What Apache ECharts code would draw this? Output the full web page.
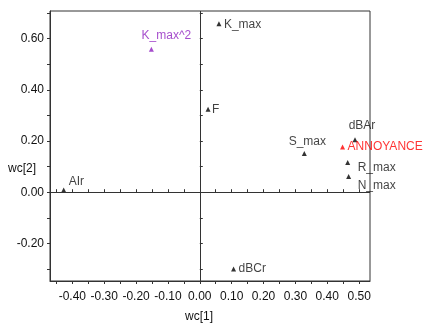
<!DOCTYPE html>
<html>
<head>
<meta charset="utf-8">
<script src="https://cdn.jsdelivr.net/npm/echarts@6/dist/echarts.min.js"></script>
<style>
  html, body { margin: 0; padding: 0; background: #fff; }
  #chart { width: 429px; height: 325px; }
</style>
</head>
<body>
<div id="chart"></div>
<script>
// loadings on the first two components
const names = ['K_max^2', 'K_max', 'F', 'dBAr', 'S_max', 'ANNOYANCE', 'R_max', 'N_max', 'dBCr', 'AIr'];
const wc1 = [-0.152, 0.060, 0.026, 0.487, 0.328, 0.448, 0.464, 0.467, 0.106, -0.427];
const wc2 = [0.559, 0.658, 0.324, 0.205, 0.151, 0.177, 0.116, 0.061, -0.300, 0.009];
const groups = ['x', 'v', 'v', 'v', 'v', 'y', 'v', 'v', 'v', 'v']; // x = squared term, y = response, v = variable

const xTicks = [-0.45, -0.40, -0.35, -0.30, -0.25, -0.20, -0.15, -0.10, -0.05, 0.00, 0.05, 0.10, 0.15, 0.20, 0.25, 0.30, 0.35, 0.40, 0.45, 0.50];
const xLabels = [-0.40, -0.30, -0.20, -0.10, 0.00, 0.10, 0.20, 0.30, 0.40, 0.50];
const yTicks = [-0.30, -0.20, -0.10, 0.00, 0.10, 0.20, 0.30, 0.40, 0.50, 0.60, 0.70];
const yLabels = [-0.20, 0.00, 0.20, 0.40, 0.60];

// where each label sits around its marker
const labelAt = {
    'K_max^2': { align: 'center', offset: [15, -13] },
    'K_max': { align: 'left', offset: [5, 1] },
    'F': { align: 'left', offset: [4, 0] },
    'dBAr': { align: 'center', offset: [7, -14] },
    'S_max': { align: 'center', offset: [3, -12] },
    'ANNOYANCE': { align: 'left', offset: [5, 0] },
    'R_max': { align: 'left', offset: [10, 5] },
    'N_max': { align: 'left', offset: [9, 9] },
    'dBCr': { align: 'left', offset: [5, 0] },
    'AIr': { align: 'left', offset: [5, -8] }
};

const colors = { x: '#8e1fbf', y: '#ff0000', v: '#000000' };
const textColors = { x: '#8e1fbf', y: '#ff0000', v: '#111111' };

function makeSeries(g) {
    let data = [];
    names.forEach((n, i) => {
        if (groups[i] !== g) return;
        data.push({
            name: n,
            value: [wc1[i], wc2[i]],
            label: {
                align: labelAt[n].align,
                offset: labelAt[n].offset
            }
        });
    });
    return {
        type: 'scatter',
        symbol: 'triangle',
        symbolSize: 5,
        itemStyle: { color: colors[g] },
        label: {
            show: true,
            position: 'inside',
            verticalAlign: 'middle',
            formatter: '{b}',
            color: textColors[g],
            fontFamily: 'Liberation Sans',
            fontSize: 12
        },
        emphasis: { disabled: true },
        data: data
    };
}

const fmt = v => v.toFixed(2);
const font = { color: '#111', fontFamily: 'Liberation Sans', fontSize: 12 };

const chart = echarts.init(document.getElementById('chart'), null, { renderer: 'canvas' });
let series = ['v', 'x', 'y'].map(makeSeries);
series[0].markLine = {
    silent: true,
    symbol: 'none',
    label: { show: false },
    lineStyle: { color: '#333', width: 1, type: 'solid' },
    data: [{ xAxis: 0 }, { yAxis: 0 }]
};

// second, bare axis on each side only draws the inner half of the ticks
function innerTicks(axis, ticks) {
    return {
        type: 'value',
        min: axis.min, max: axis.max,
        position: axis.position,
        axisLine: { show: false },
        axisTick: { customValues: ticks, inside: true, length: 3, lineStyle: { color: '#333' } },
        axisLabel: { show: false },
        splitLine: { show: false }
    };
}

const xRange = { min: -0.47, max: 0.534, position: 'bottom' };
const yRange = { min: -0.347, max: 0.708, position: 'left' };

chart.setOption({
    backgroundColor: '#fff',
    animation: false,
    grid: {
        left: 50, right: 59, top: 11, bottom: 44,
        containLabel: false,
        outerBoundsMode: 'none',
        show: true, borderColor: '#333', borderWidth: 1
    },
    // y axis title sits below the middle, so placed as text
    graphic: [{
        type: 'text',
        left: 8,
        top: 163,
        style: { text: 'wc[2]', fill: '#111', font: '12px "Liberation Sans"' }
    }],
    xAxis: [{
        type: 'value',
        min: xRange.min, max: xRange.max,
        position: 'bottom',
        name: 'wc[1]',
        nameLocation: 'middle',
        nameGap: 30,
        nameTextStyle: Object.assign({ padding: [0, 22, 0, 0] }, font),
        axisLine: { onZero: false, lineStyle: { color: '#333' } },
        axisTick: { customValues: xTicks, length: 3, lineStyle: { color: '#333' } },
        axisLabel: Object.assign({ customValues: xLabels, formatter: fmt, margin: 10 }, font),
        splitLine: { show: false }
    }, innerTicks(xRange, xTicks)],
    yAxis: [{
        type: 'value',
        min: yRange.min, max: yRange.max,
        position: 'left',
        axisLine: { onZero: false, lineStyle: { color: '#333' } },
        axisTick: { customValues: yTicks, length: 3, lineStyle: { color: '#333' } },
        axisLabel: Object.assign({ customValues: yLabels, formatter: fmt, margin: 6 }, font),
        splitLine: { show: false }
    }, innerTicks(yRange, yTicks)],
    series: series
});
</script>
</body>
</html>
